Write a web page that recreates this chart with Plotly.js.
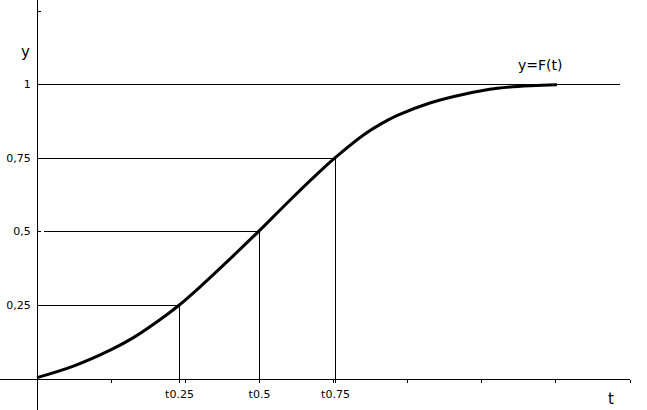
<!DOCTYPE html>
<html>
<head>
<meta charset="utf-8">
<script src="https://cdn.plot.ly/plotly-3.0.1.min.js"></script>
<style>
html,body{margin:0;padding:0;background:#fff;}
#chart{width:647px;height:410px;}
#chart .scatterlayer .trace:first-child path.js-line{shape-rendering:crispEdges;}
</style>
</head>
<body>
<div id="chart"></div>
<script>
// Curve y = F(t)
const curveT = [0, 0.5, 1.0, 1.3, 1.75, 1.919, 2.2, 2.65, 3.0, 3.374, 3.824, 4.027, 4.409, 4.64, 4.861, 5.311, 5.761, 6.212, 6.662, 7.014];
const curveY = [0.003, 0.043, 0.098, 0.139, 0.217, 0.250, 0.312, 0.418, 0.503, 0.597, 0.706, 0.752, 0.829, 0.866, 0.895, 0.938, 0.967, 0.987, 0.996, 0.999];

// Quantile guides
const levels = [0.25, 0.5, 0.75];
const quantT = [1.922, 3.001, 4.027];
const quantLabels = ['t0.25', 't0.5', 't0.75'];
const hStart = [0, 0.095, 0];
const oneLineEnd = 7.865;

// Axis ticks
const xMinorTicks = [1, 2, 3, 4, 5, 6, 7, 8];
const yTickVals = [0.25, 0.5, 0.75, 1, 1.25];
const yTickText = ['0,25', '0,5', '0,75', '1', ''];

const gx = [], gy = [];
for (let i = 0; i < levels.length; i++) {
  gx.push(hStart[i], quantT[i], null);
  gy.push(levels[i], levels[i], null);
  gx.push(quantT[i], quantT[i], null);
  gy.push(0, levels[i], null);
}
gx.push(0, oneLineEnd);
gy.push(1, 1);

const font = 'DejaVu Sans, sans-serif';

const traces = [
  {x: gx, y: gy, mode: 'lines', line: {color: '#000', width: 1}, hoverinfo: 'skip'},
  {x: curveT, y: curveY, mode: 'lines', line: {color: '#000', width: 3, shape: 'spline', smoothing: 1}, hoverinfo: 'skip'}
];

const yMin = -31.5 / 294, yMax = yMin + 410 / 294;

const layout = {
  width: 647, height: 410,
  margin: {l: 0, r: 0, t: 0, b: 0},
  paper_bgcolor: '#fff', plot_bgcolor: '#fff',
  showlegend: false,
  xaxis: {
    domain: [0, 630 / 647], range: [-0.5, 8.0],
    anchor: 'free', position: 31.5 / 410,
    showline: true, linecolor: '#000', linewidth: 1,
    showgrid: false, zeroline: false,
    tickmode: 'array', tickvals: quantT, ticktext: quantLabels,
    ticks: 'outside', ticklen: 3, tickcolor: '#000', tickwidth: 1,
    ticklabelstandoff: 2,
    tickfont: {family: font, size: 11, color: '#000'},
    minor: {tickmode: 'array', tickvals: xMinorTicks, ticks: 'outside', ticklen: 3, tickcolor: '#000', showgrid: false}
  },
  yaxis: {
    domain: [0, 1], range: [yMin, yMax],
    anchor: 'free', position: 37 / 647,
    showline: true, linecolor: '#000', linewidth: 1,
    showgrid: false, zeroline: false,
    tickmode: 'array', tickvals: yTickVals, ticktext: yTickText,
    ticks: 'inside', ticklen: 3, tickcolor: '#000', tickwidth: 1,
    ticklabelstandoff: 4,
    tickfont: {family: font, size: 11, color: '#000'}
  },
  annotations: [
    {x: -0.155, y: 1.112, xref: 'x', yref: 'y', text: 'y', showarrow: false, font: {family: font, size: 15, color: '#000'}},
    {x: 7.743, y: -0.071, xref: 'x', yref: 'y', text: 't', showarrow: false, font: {family: font, size: 15, color: '#000'}},
    {x: 6.79, y: 1.068, xref: 'x', yref: 'y', text: 'y=F(t)', showarrow: false, font: {family: font, size: 14, color: '#000'}}
  ]
};

Plotly.newPlot('chart', traces, layout, {displayModeBar: false, staticPlot: true});
</script>
</body>
</html>
